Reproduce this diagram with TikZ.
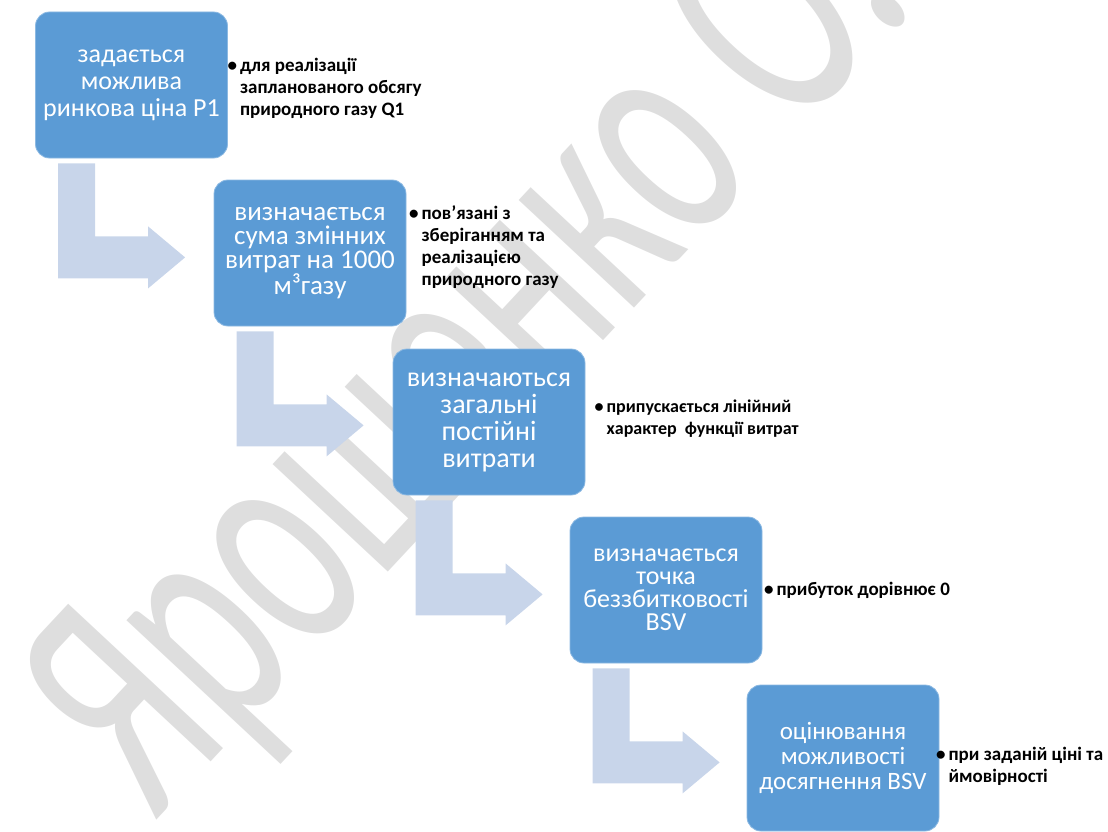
\documentclass[tikz,border=0pt]{standalone}
\usepackage{fontspec}
\setmainfont{Carlito}
\usetikzlibrary{calc}

\definecolor{boxblue}{RGB}{91,155,213}
\definecolor{arrowblue}{RGB}{200,213,234}
\definecolor{wmgray}{RGB}{222,222,222}

\tikzset{
  stepbox/.style={rounded corners=14pt, fill=boxblue, draw=boxblue!70!white,
    line width=0.8pt, minimum width=192pt, minimum height=146pt,
    text=white, align=center, inner sep=2pt},
  notetext/.style={anchor=west, align=left, inner sep=0pt},
  bendarrow/.style={fill=arrowblue}
}
\newcommand{\notebullet}{\llap{\textbullet\hspace{3pt}}}
\newcommand{\notefont}[1]{\bfseries\fontsize{#1}{22}\selectfont}

\begin{document}
\begin{tikzpicture}[x=1pt,y=1pt]
\useasboundingbox (0,0) rectangle (1108,-832);
\clip (0,0) rectangle (1108,-832);
% watermark
\begin{scope}[shift={(478,-358)},rotate=47,xscale=0.62]
  \node[transform shape, text=wmgray, font=\fontsize{330}{330}\selectfont] (wm) at (0,0) {Ярошенко О.};
\end{scope}

\node[stepbox, font=\fontsize{26}{27}\selectfont] (b1) at (131.5,-85) {задається\\можлива\\ринкова ціна P1};
\node[stepbox, font=\fontsize{27}{24}\selectfont] (b2) at (310,-253) {визначається\\сума змінних\\витрат на 1000\\м³газу};
\node[stepbox, font=\fontsize{28}{27}\selectfont] (b3) at (489,-422) {визначаються\\загальні\\постійні\\витрати};
\node[stepbox, font=\fontsize{26}{23}\selectfont] (b4) at (666,-590) {визначається\\точка\\беззбитковості\\BSV};
\node[stepbox, font=\fontsize{25}{25}\selectfont] (b5) at (843,-758) {оцінювання\\можливості\\досягнення BSV};

\foreach \a in {1,...,4}
  \fill[bendarrow] ($(b\a.south west)+(23,-5)$) -- ++(37,0) -- ++(0,-73) -- ++(53,0)
    -- ++(0,10) -- ++(37,-31) -- ++(-37,-31) -- ++(0,10) -- ++(-90,0) -- cycle;

\node[notetext, font=\notefont{19}] (n1) at ($(b1.east)+(12,-3)$) {\notebullet для реалізації\\запланованого обсягу\\природного газу Q1};
\node[notetext, font=\notefont{19}] (n2) at ($(b2.east)+(15,6)$) {\notebullet пов’язані з\\зберіганням та\\реалізацією\\природного газу};
\node[notetext, font=\notefont{18}] (n3) at ($(b3.east)+(21,3)$) {\notebullet припускається лінійний\\характер\ \ функції витрат};
\node[notetext, font=\notefont{19}] (n4) at ($(b4.east)+(14,0)$) {\notebullet прибуток дорівнює 0};
\node[notetext, font=\notefont{19}] (n5) at ($(b5.east)+(9,-8)$) {\notebullet при заданій ціні та\\ймовірності};
\end{tikzpicture}
\end{document}
